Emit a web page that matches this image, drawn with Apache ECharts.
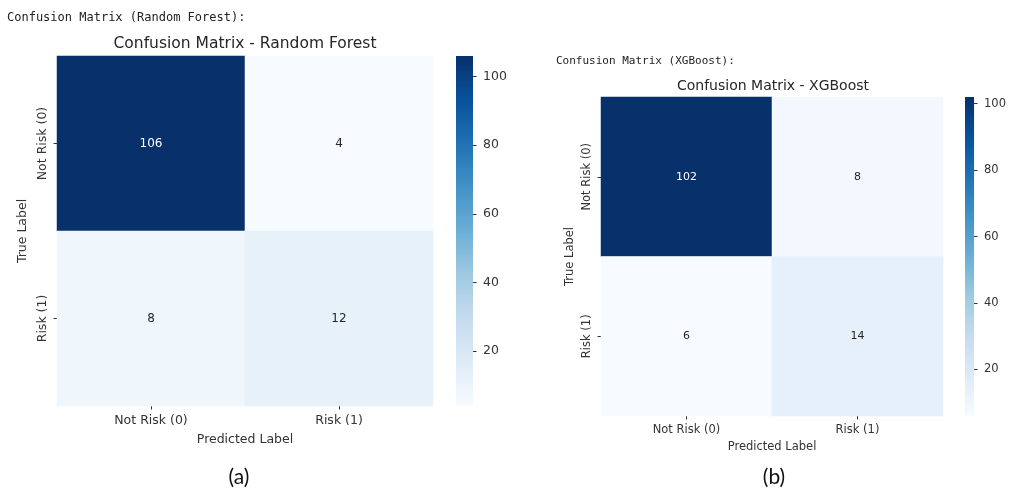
<!DOCTYPE html>
<html>
<head>
<meta charset="utf-8">
<title>Confusion Matrices</title>
<script src="https://cdn.jsdelivr.net/npm/echarts@6/dist/echarts.min.js"></script>
<style>
  html, body { margin: 0; padding: 0; background: #ffffff; }
  #chart { width: 1009px; height: 490px; }
</style>
</head>
<body>
<div id="chart"></div>
<script>
// Class names shared by both matrices (rows = true label, columns = predicted label)
const classLabels = ['Not Risk (0)', 'Risk (1)'];

// Confusion matrix counts
const rfMatrix = [
  [106, 4],
  [8, 12]
];
const xgbMatrix = [
  [102, 8],
  [6, 14]
];

// Colorbar tick values
const colorbarTicks = [20, 40, 60, 80, 100];

// Sequential "Blues" palette, light to dark
const blues = ['#f7fbff', '#deebf7', '#c6dbef', '#9ecae1', '#6baed6', '#4292c6', '#2171b5', '#08519c', '#08306b'];

const FONT = 'DejaVu Sans';
const TEXT = '#333333';

function extentOf(matrix) {
  const flat = matrix.flat();
  return [Math.min(...flat), Math.max(...flat)];
}

function cellData(matrix) {
  const [lo, hi] = extentOf(matrix);
  const mid = (lo + hi) / 2;
  const out = [];
  matrix.forEach((row, r) => row.forEach((v, c) => {
    out.push({ value: [c, r, v], label: { color: v > mid ? '#ffffff' : '#262626' } });
  }));
  return out;
}

// Vertical gradient for the colorbar: dark at the top, light at the bottom
const colorbarFill = {
  type: 'linear', x: 0, y: 0, x2: 0, y2: 1,
  colorStops: blues.slice().reverse().map((c, i, a) => ({ offset: i / (a.length - 1), color: c }))
};

const rfExt = extentOf(rfMatrix);
const xgbExt = extentOf(xgbMatrix);

// Panel geometry and font sizes
const panels = [
  { grid: { left: 57, top: 56, width: 376, height: 350 },
    bar: { left: 456, top: 56, width: 17, height: 350 },
    fs: 12.5, nameGapX: 27, nameGapY: 28, cbMargin: 10, ext: rfExt, matrix: rfMatrix },
  { grid: { left: 601, top: 97, width: 342, height: 319 },
    bar: { left: 965, top: 97, width: 15, height: 319 },
    fs: 11.5, nameGapX: 24, nameGapY: 25, cbMargin: 10, ext: xgbExt, matrix: xgbMatrix }
];

const grids = [];
const xAxes = [];
const yAxes = [];
const series = [];
const visualMaps = [];

panels.forEach((p, i) => {
  const g = grids.length;
  grids.push(Object.assign({ containLabel: false }, p.grid));
  grids.push(Object.assign({ containLabel: false }, p.bar));

  // Heatmap axes
  xAxes.push({
    type: 'category', gridIndex: g, data: classLabels,
    axisLine: { show: false },
    axisTick: { show: true, alignWithLabel: true, length: 3.5, lineStyle: { color: TEXT } },
    axisLabel: { color: TEXT, fontFamily: FONT, fontSize: p.fs, margin: 8 },
    splitLine: { show: false },
    name: 'Predicted Label', nameLocation: 'middle', nameGap: p.nameGapX,
    nameTextStyle: { color: TEXT, fontFamily: FONT, fontSize: p.fs }
  });
  yAxes.push({
    type: 'category', gridIndex: g, data: classLabels, inverse: true,
    axisLine: { show: false },
    axisTick: { show: true, alignWithLabel: true, length: 3.5, lineStyle: { color: TEXT } },
    axisLabel: { color: TEXT, fontFamily: FONT, fontSize: p.fs, rotate: 90, margin: 8 },
    splitLine: { show: false },
    name: 'True Label', nameLocation: 'middle', nameGap: p.nameGapY, nameRotate: 90,
    nameTextStyle: { color: TEXT, fontFamily: FONT, fontSize: p.fs }
  });

  // Colorbar axes
  xAxes.push({
    type: 'category', gridIndex: g + 1, data: [''],
    show: false
  });
  yAxes.push({
    type: 'value', gridIndex: g + 1, position: 'right',
    min: p.ext[0], max: p.ext[1],
    axisLine: { show: false },
    splitLine: { show: false },
    axisTick: { show: true, length: 3.5, customValues: colorbarTicks, lineStyle: { color: TEXT } },
    axisLabel: { color: TEXT, fontFamily: FONT, fontSize: p.fs, margin: p.cbMargin, customValues: colorbarTicks }
  });

  const hs = series.length;
  series.push({
    type: 'heatmap', xAxisIndex: g, yAxisIndex: g,
    data: cellData(p.matrix),
    label: { show: true, fontFamily: FONT, fontSize: p.fs - 0.5, formatter: (d) => String(d.value[2]) },
    emphasis: { disabled: true }
  });
  // Colorbar: transparent base up to the minimum, gradient span from min to max
  series.push({
    type: 'bar', xAxisIndex: g + 1, yAxisIndex: g + 1, stack: 'cb' + i,
    data: [p.ext[0]], barWidth: '100%', itemStyle: { color: 'rgba(0,0,0,0)' },
    silent: true
  });
  series.push({
    type: 'bar', xAxisIndex: g + 1, yAxisIndex: g + 1, stack: 'cb' + i,
    data: [p.ext[1] - p.ext[0]], barWidth: '100%', itemStyle: { color: colorbarFill },
    silent: true
  });

  visualMaps.push({
    type: 'continuous', show: false, seriesIndex: hs, dimension: 2,
    min: p.ext[0], max: p.ext[1], inRange: { color: blues }
  });
});

const option = {
  backgroundColor: '#ffffff',
  animation: false,
  title: [
    { text: 'Confusion Matrix (Random Forest):', left: 7, top: 12, padding: 0,
      textStyle: { fontFamily: 'DejaVu Sans Mono', fontSize: 12, fontWeight: 'normal', color: '#222' } },
    { text: 'Confusion Matrix - Random Forest', left: 245, top: 36, padding: 0, textAlign: 'center',
      textStyle: { fontFamily: FONT, fontSize: 15.5, fontWeight: 'normal', color: '#262626' } },
    { text: 'Confusion Matrix (XGBoost):', left: 556, top: 56, padding: 0,
      textStyle: { fontFamily: 'DejaVu Sans Mono', fontSize: 11, fontWeight: 'normal', color: '#222' } },
    { text: 'Confusion Matrix - XGBoost', left: 773, top: 79, padding: 0, textAlign: 'center',
      textStyle: { fontFamily: FONT, fontSize: 14, fontWeight: 'normal', color: '#262626' } },
    { text: '(a)', left: 239, top: 467, padding: 0, textAlign: 'center',
      textStyle: { fontFamily: 'Lato', fontSize: 21, fontWeight: 'normal', color: '#111' } },
    { text: '(b)', left: 774, top: 467, padding: 0, textAlign: 'center',
      textStyle: { fontFamily: 'Lato', fontSize: 21, fontWeight: 'normal', color: '#111' } }
  ],
  grid: grids,
  xAxis: xAxes,
  yAxis: yAxes,
  visualMap: visualMaps,
  series: series
};

const chart = echarts.init(document.getElementById('chart'), null, { renderer: 'canvas' });
chart.setOption(option);
</script>
</body>
</html>
